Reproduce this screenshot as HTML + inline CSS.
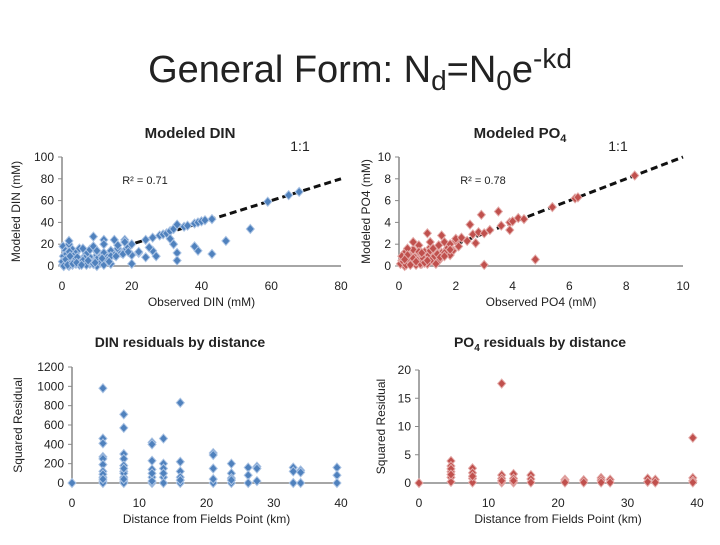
<!DOCTYPE html>
<html><head><meta charset="utf-8">
<style>
body{margin:0;background:#fff;width:720px;height:540px;overflow:hidden;font-family:"Liberation Sans",sans-serif}
svg text{font-family:"Liberation Sans",sans-serif}
</style></head>
<body>
<svg id="c" width="720" height="540">
<text x="360" y="82" text-anchor="middle" font-size="38" fill="#222">General Form: N<tspan font-size="28" dy="8">d</tspan><tspan dy="-8">=N</tspan><tspan font-size="28" dy="8">0</tspan><tspan dy="-8">e</tspan><tspan font-size="28" dy="-14">-kd</tspan></text>
</svg>
<script>
// ---- data ----
const dinObs=[0.5,1,1.5,2,2.5,3,0.3,0.8,1.2,2,3,4,5,6,7,8,9,10,11,12,13,14,15,16,17,18,19,20,1,2,3,4,5,6,7,8,9,10,2,4,6,8,10,12,14,16,18,20,22,24,26,28,29,30,31,32,33,35,36,38,39,40,41,43,59,65,68,54,47,43,39,38,33,33,32,27,26,25,24,22,20,15,12,9,2,18,10,31,
 0.2,0.6,1,1.4,1.8,2.2,2.6,3,3.5,4,4.5,5,5.5,6,6.5,7,0.4,0.9,1.3,1.7,2.1,2.5,3.2,3.8,4.4,5.2,6,7,8,9,10,11,12,13,14,0.1,0.5,1.1,1.6,2.3,3.1,4.2,5.6,7.5,9.5,11.5,13.5,15.5,17.5,19];
const dinMod=[0,2,5,8,12,15,18,10,3,20,1,5,3,6,2,8,4,10,6,12,8,14,10,16,12,14,17,20,14,10,8,12,16,7,11,15,18,13,23,3,16,2,14,24,9,19,24,10,12,24,26,28,29,30,32,34,38,36,37,39,40,41,42,43,59,65,68,34,23,11,14,18,12,5,20,9,14,17,8,13,2,24,20,27,0,22,0,25,
 1,3,2,6,4,1,7,3,5,2,6,1,4,3,7,2,9,5,11,7,13,4,9,6,8,3,5,1,4,2,6,3,1,5,2,4,0,6,1,9,2,3,1,5,3,7,4,9,11,13];
const poObs=[0.1,0.2,0.3,0.4,0.5,0.6,0.7,0.8,0.9,1,1.1,1.2,1.3,1.4,1.5,1.6,1.7,1.8,1.9,2,0.2,0.5,0.8,1,1.2,1.5,1.8,2,2.2,2.4,2.6,2.8,3,3.2,3.6,3.9,4,4.2,4.4,5.4,6.2,6.3,8.3,4.8,3,3.5,2.9,2.5,0.2,0.6,1,1.4,0.3,0.7,1.1,1.6,2.1,2.7,3.9,0.4,
 0.05,0.15,0.25,0.35,0.45,0.55,0.65,0.75,0.85,0.95,1.05,1.15,1.25,1.35,1.45,0.1,0.3,0.5,0.7,0.9,1.1,1.3,0.2,0.4,0.6,0.8,1,1.2,1.6,1.8];
const poMod=[0.5,1.2,0.3,0.8,1.5,0.4,1,0.6,1.3,0.9,1.7,0.8,1.4,1.9,1.2,2.2,1.6,2,1.4,2.3,0.1,2.2,0.2,3,0.5,2.8,1,2.5,2.6,2.3,2.9,3.1,3,3.3,3.7,4,4.1,4.4,4.3,5.4,6.2,6.3,8.3,0.6,0.1,5,4.7,3.8,0,0.1,0.2,0.5,1.6,1.9,2.2,1.2,1.8,2.1,3.3,0.9,
 0.2,0.4,0.1,0.6,0.3,0.8,0.5,0.2,0.7,0.4,1,0.6,0.9,1.1,0.8,0.9,1,0.7,1.3,0.3,1.4,0.2,0.6,0.1,0.4,1.2,0.5,1.6,0.9,1.5];
const dDist=[0,4.6,4.6,4.6,4.6,4.6,4.6,4.6,4.6,4.6,7.7,7.7,7.7,7.7,7.7,7.7,7.7,7.7,7.7,11.9,11.9,11.9,11.9,11.9,11.9,13.6,13.6,13.6,13.6,13.6,16.1,16.1,16.1,16.1,16.1,21,21,21,21,23.7,23.7,23.7,23.7,26.2,26.2,26.2,27.5,27.5,27.5,32.9,32.9,32.9,34,34,34,39.4,39.4,39.4,4.6,7.7,11.9,4.6,4.6,7.7,7.7,11.9,13.6,16.1,21,23.7];
const dRes=[0,460,410,270,250,190,120,60,20,980,710,570,300,250,180,120,60,20,0,420,400,230,140,60,0,460,200,150,60,0,830,220,120,60,0,310,290,150,0,200,100,50,0,160,80,0,170,150,20,160,120,0,130,110,0,160,80,0,0,100,20,90,40,40,150,100,100,30,40,30];
const pDist=[0,4.6,4.6,4.6,4.6,4.6,7.7,7.7,7.7,7.7,11.9,11.9,11.9,11.9,13.6,13.6,13.6,16.1,16.1,16.1,21,21,21,23.7,23.7,26.2,26.2,26.2,27.5,27.5,32.9,32.9,34,34,39.4,39.4,39.4,39.4,4.6,4.6,7.7,11.9,13.6];
const pRes=[0,3.9,3,2,1,0.2,2.6,1.8,0.8,0.1,17.6,1.4,0.8,0.1,1.6,0.8,0.1,1.4,0.7,0.1,0.6,0.3,0.1,0.5,0.1,0.9,0.5,0.1,0.6,0.1,0.8,0.2,0.6,0.1,8,0.9,0.4,0.1,2.5,1.5,1.2,0.4,0.4];
const dinTicksX=[0,20,40,60,80], dinTicksY=[0,20,40,60,80,100];
const poTicksX=[0,2,4,6,8,10], poTicksY=[0,2,4,6,8,10];
const resTicksX=[0,10,20,30,40], dResTicksY=[0,200,400,600,800,1000,1200], pResTicksY=[0,5,10,15,20];

const svg=document.getElementById('c');
const NS='http://www.w3.org/2000/svg';
function mk(tag,at,txt){const e=document.createElementNS(NS,tag);for(const k in at)e.setAttribute(k,at[k]);if(txt!==undefined)e.textContent=txt;svg.appendChild(e);return e;}

function panel(o){
  const sx=v=>o.x0+(v-o.xmin)/(o.xmax-o.xmin)*(o.x1-o.x0);
  const sy=v=>o.y0-(v-o.ymin)/(o.ymax-o.ymin)*(o.y0-o.y1);
  let a=mk('line',{x1:o.x0,y1:o.y0,x2:o.x0,y2:o.y1,stroke:'#888','stroke-width':1.5});
  
  a=mk('line',{x1:o.x0,y1:o.y0,x2:o.x1,y2:o.y0,stroke:'#888','stroke-width':1.5});
  
  o.tx.forEach(v=>{const t=mk('text',{x:sx(v),y:o.y0+24,'text-anchor':'middle','font-size':12,fill:'#222'},v);
    });
  o.ty.forEach(v=>{const t=mk('text',{x:o.x0-8,y:sy(v)+4,'text-anchor':'end','font-size':12,fill:'#222'},v);
    
    const tk=mk('line',{x1:o.x0-4,y1:sy(v),x2:o.x0,y2:sy(v),stroke:'#888'});
    });
  if(o.line){const l=mk('line',{x1:sx(o.line[0]),y1:sy(o.line[0]),x2:sx(o.line[1]),y2:sy(o.line[1]),stroke:'#111','stroke-width':3,'stroke-dasharray':'7,4'});
    }
  o.xs.forEach((xv,i)=>{const px=sx(xv),py=sy(o.ys[i]);
    const p=mk('polygon',{points:`${px},${py-4.5} ${px+4},${py} ${px},${py+4.5} ${px-4},${py}`,fill:o.col,stroke:o.edge,'stroke-width':1});
    });
  let t=mk('text',{x:(o.x0+o.x1)/2,y:o.y0+40,'text-anchor':'middle','font-size':12,fill:'#222'},o.xl);
  
  const yc=(o.y0+o.y1)/2;
  t=mk('text',{x:o.ylx,y:yc,'text-anchor':'middle','font-size':12,fill:'#222',transform:`rotate(-90 ${o.ylx} ${yc})`},o.yl);
  
}
const B='#4f81bd',BE='#a9c2e3',R='#c0504d',RE='#e3a9a7';
panel({id:'din-scatter',x0:62,x1:341,y0:266,y1:157,xmin:0,xmax:80,ymin:0,ymax:100,tx:dinTicksX,ty:dinTicksY,xs:dinObs,ys:dinMod,col:B,edge:BE,line:[15,80],xl:'Observed DIN (mM)',yl:'Modeled DIN (mM)',ylx:20});
panel({id:'po4-scatter',x0:399,x1:683,y0:266,y1:157,xmin:0,xmax:10,ymin:0,ymax:10,tx:poTicksX,ty:poTicksY,xs:poObs,ys:poMod,col:R,edge:RE,line:[2,10],xl:'Observed PO4 (mM)',yl:'Modeled PO4 (mM)',ylx:370});
panel({id:'din-residuals',x0:72,x1:341,y0:483,y1:367,xmin:0,xmax:40,ymin:0,ymax:1200,tx:resTicksX,ty:dResTicksY,xs:dDist,ys:dRes,col:B,edge:BE,xl:'Distance from Fields Point (km)',yl:'Squared Residual',ylx:22});
panel({id:'po4-residuals',x0:419,x1:697,y0:483,y1:370,xmin:0,xmax:40,ymin:0,ymax:20,tx:resTicksX,ty:pResTicksY,xs:pDist,ys:pRes,col:R,edge:RE,xl:'Distance from Fields Point (km)',yl:'Squared Residual',ylx:385});

function lbl(x,y,s,txt,name,bold,anchor){const t=mk('text',{x:x,y:y,'font-size':s,fill:'#222','font-weight':bold?'bold':'normal','text-anchor':anchor||'middle'},txt);
  return t;}
lbl(190,138,15,'Modeled DIN','din-scatter-title',true);
let t=lbl(520,138,15,'Modeled PO','po4-scatter-title',true);
let ts=document.createElementNS(NS,'tspan');ts.setAttribute('font-size',11);ts.setAttribute('dy',4);ts.textContent='4';t.appendChild(ts);
lbl(300,151,14,'1:1','din-one-to-one-label',false);
lbl(618,151,14,'1:1','po4-one-to-one-label',false);
lbl(145,184,11,'R² = 0.71','din-r-squared',false);
lbl(483,184,11,'R² = 0.78','po4-r-squared',false);
lbl(180,347,14,'DIN residuals by distance','din-residuals-title',true);
t=lbl(540,347,14,'PO','po4-residuals-title',true);
ts=document.createElementNS(NS,'tspan');ts.setAttribute('font-size',10);ts.setAttribute('dy',4);ts.textContent='4';t.appendChild(ts);
ts=document.createElementNS(NS,'tspan');ts.setAttribute('dy',-4);ts.textContent=' residuals by distance';t.appendChild(ts);
</script>
</body></html>
